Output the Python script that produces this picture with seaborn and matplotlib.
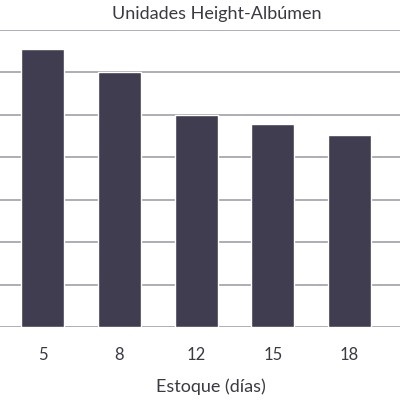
import pandas as pd
import matplotlib
matplotlib.use('Agg')
import matplotlib.pyplot as plt
import seaborn as sns

dias = ['5', '8', '12', '15', '18']
unidades = [65.3, 60.0, 49.8, 47.8, 45.2]
y_ticks = [0, 10, 20, 30, 40, 50, 60, 70]

df = pd.DataFrame({'dias': dias, 'unidades': unidades})

sns.set_style('white')
plt.rcParams['font.family'] = ['Lato', 'DejaVu Sans']
texto = '#3b3a42'

fig = plt.figure(figsize=(4, 4), dpi=100)
ax = fig.add_axes([0, 1 - 327.3 / 400, 1, (327.3 - 29.5) / 400])

sns.barplot(x='dias', y='unidades', data=df, order=dias, color='#403d50',
            saturation=1, width=0.56, ax=ax, zorder=3)

ax.set_ylim(0, 70)
ax.set_xlim(-0.557, 4.66)
ax.set_yticks(y_ticks)
ax.yaxis.grid(True, color='#9896a0', linewidth=1.1, zorder=0)
ax.set_axisbelow(True)
ax.tick_params(axis='y', left=False, labelleft=False)
ax.tick_params(axis='x', bottom=False, pad=11, labelsize=12, labelcolor=texto)
for s in ax.spines.values():
    s.set_visible(False)

ax.set_ylabel('')
ax.set_xlabel('Estoque (días)', fontsize=13, color=texto)
ax.xaxis.set_label_coords(211 / 400, -51 / 297.8)
ax.set_title('Unidades Height-Albúmen', fontsize=13, color=texto, x=217 / 400, pad=7.5)

fig.savefig('out.png', dpi=100)
